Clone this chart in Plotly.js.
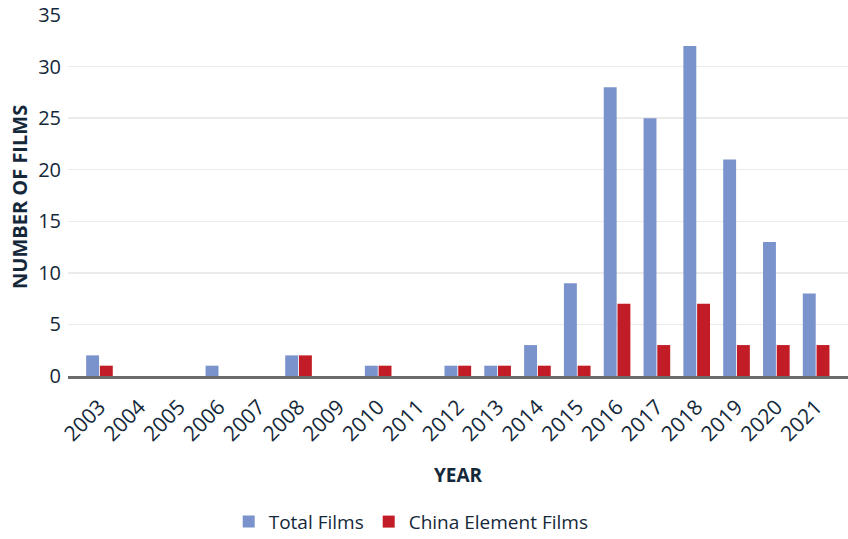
<!DOCTYPE html>
<html><head><meta charset="utf-8">
<script src="https://cdn.plot.ly/plotly-3.0.1.min.js"></script>
<style>html,body{margin:0;padding:0;background:#fff;}#chart{width:848px;height:539px;}</style>
</head><body><div id="chart"></div>
<script>
const years = ['2003','2004','2005','2006','2007','2008','2009','2010','2011','2012','2013','2014','2015','2016','2017','2018','2019','2020','2021'];
const totalFilms = [2,0,0,1,0,2,0,1,0,1,1,3,9,28,25,32,21,13,8];
const chinaElementFilms = [1,0,0,0,0,2,0,1,0,1,1,1,1,7,3,7,3,3,3];

const textColor = '#14283a';
const fam = 'Open Sans, Lato, sans-serif';

const data = [
  {type:'bar', name:'Total Films', x: years, y: totalFilms,
   marker:{color:'#7b93cc', line:{width:0}}},
  {type:'bar', name:'China Element Films', x: years, y: chinaElementFilms,
   marker:{color:'#c21d26', line:{width:0}}}
];

const layout = {
  width: 848, height: 539,
  margin: {l: 68, r: 0, t: 15, b: 163},
  paper_bgcolor: '#fff', plot_bgcolor: '#fff',
  font: {family: fam, size: 18, color: textColor},
  barmode: 'group', bargap: 0.31, bargroupgap: 0.06,
  showlegend: true,
  legend: {orientation: 'h', x: 0.44, xanchor: 'center', yref: 'container', y: 0.032, yanchor: 'middle',
           font: {family: fam, size: 19, color: textColor}, itemwidth: 30,
           traceorder: 'normal'},
  xaxis: {
    type: 'category', range: [-0.79, 18.8],
    tickangle: -45, tickfont: {family: fam, size: 21, color: textColor},
    ticklabelstandoff: 8,
    showline: true, linecolor: '#6b6b6b', linewidth: 2.5,
    showgrid: false, ticks: '', zeroline: false, automargin: false
  },
  yaxis: {
    range: [0, 35], dtick: 5, tick0: 0,
    tickfont: {family: fam, size: 20, color: textColor},
    ticklabelstandoff: 6,
    showgrid: true, gridcolor: '#ebebeb', gridwidth: 1.5,
    zeroline: false, showline: false, ticks: '', ticklen: 0, automargin: false
  },
  annotations: [
    {text: '<b>YEAR</b>', xref: 'paper', yref: 'paper', x: 0.5, y: -0.274, showarrow: false,
     xanchor: 'center', yanchor: 'middle', font: {family: fam, size: 19, color: textColor}},
    {text: '<b>NUMBER OF FILMS</b>', xref: 'paper', yref: 'paper', x: -0.0615, y: 0.496, showarrow: false,
     textangle: -90, xanchor: 'center', yanchor: 'middle', font: {family: fam, size: 20, color: textColor}}
  ]
};

Plotly.newPlot('chart', data, layout, {displayModeBar: false, staticPlot: true});
</script>
</body></html>
